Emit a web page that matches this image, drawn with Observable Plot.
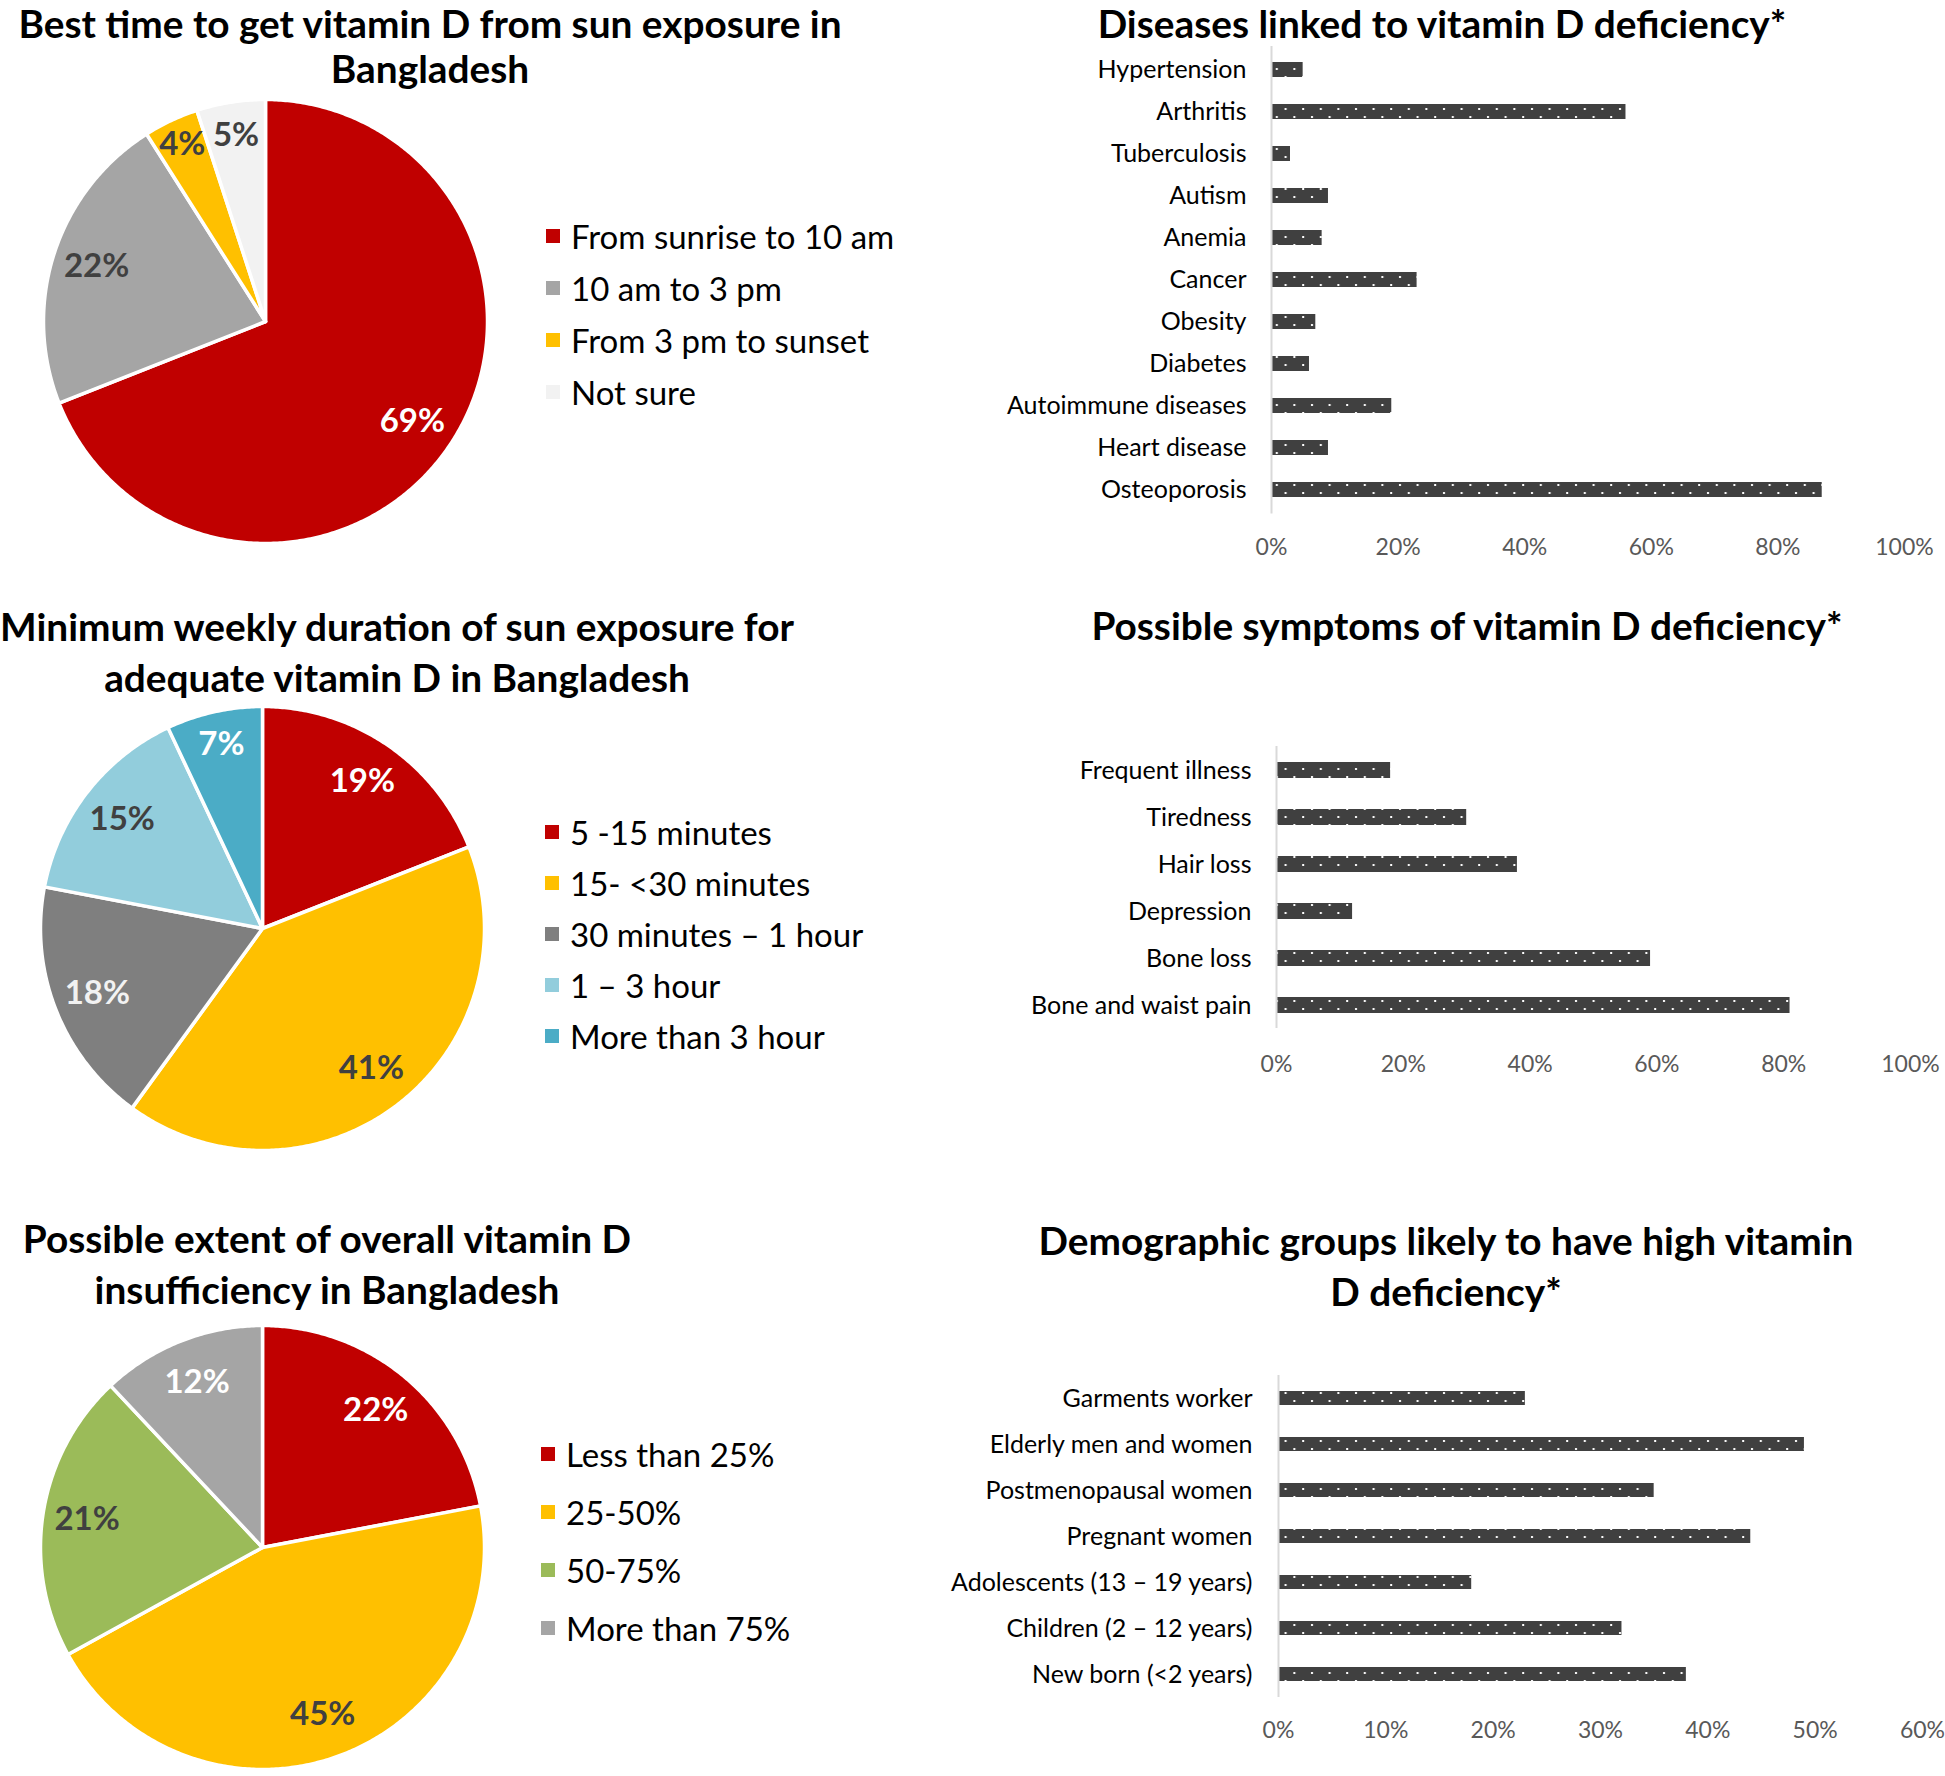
<!DOCTYPE html>
<html><head><meta charset="utf-8">
<script src="https://cdn.jsdelivr.net/npm/d3@7"></script>
<script src="https://cdn.jsdelivr.net/npm/@observablehq/plot@0.6"></script>
<style>
body{margin:0;background:#fff;font-family:Lato,"Open Sans",sans-serif;}
#root{position:relative;width:1945px;height:1776px;overflow:hidden;background:#fff;}
.title{position:absolute;font-weight:700;font-size:38.8px;line-height:51px;height:51px;text-align:center;color:#000;white-space:nowrap;transform:translateX(-50%);}
.legend{position:absolute;font-size:33px;color:#000;}
.legend .item{position:absolute;left:0;display:flex;align-items:center;white-space:nowrap;transform:translateY(-50%);}
.legend .sw{width:14px;height:14px;margin-right:11px;flex:none;}
.panel{position:absolute;}
</style></head><body><div id="root"></div>
<script>
// ---------- data ----------
const timeCategories = ["From sunrise to 10 am", "10 am to 3 pm", "From 3 pm to sunset", "Not sure"];
const timeValues = [69, 22, 4, 5];

const durationCategories = ["5 -15 minutes", "15- <30 minutes", "30 minutes – 1 hour", "1 – 3 hour", "More than 3 hour"];
const durationValues = [19, 41, 18, 15, 7];

const extentCategories = ["Less than 25%", "25-50%", "50-75%", "More than 75%"];
const extentValues = [22, 45, 21, 12];

const diseaseCategories = ["Hypertension", "Arthritis", "Tuberculosis", "Autism", "Anemia", "Cancer", "Obesity", "Diabetes", "Autoimmune diseases", "Heart disease", "Osteoporosis"];
const diseaseValues = [5, 56, 3, 9, 8, 23, 7, 6, 19, 9, 87];

const symptomCategories = ["Frequent illness", "Tiredness", "Hair loss", "Depression", "Bone loss", "Bone and waist pain"];
const symptomValues = [18, 30, 38, 12, 59, 81];

const groupCategories = ["Garments worker", "Elderly men and women", "Postmenopausal women", "Pregnant women", "Adolescents (13 – 19 years)", "Children (2 – 12 years)", "New born (<2 years)"];
const groupValues = [23, 49, 35, 44, 18, 32, 38];

const ticks100 = [0, 20, 40, 60, 80, 100];
const ticks60 = [0, 10, 20, 30, 40, 50, 60];

const titles = {
  time: ["Best time to get vitamin D from sun exposure in", "Bangladesh"],
  duration: ["Minimum weekly duration of sun exposure for", "adequate vitamin D in Bangladesh"],
  extent: ["Possible extent of overall vitamin D", "insufficiency in Bangladesh"],
  disease: ["Diseases linked to vitamin D deficiency*"],
  symptom: ["Possible symptoms of vitamin D deficiency*"],
  group: ["Demographic groups likely to have high vitamin", "D deficiency*"]
};

// ---------- styles ----------
const timeColors = ["#C00000", "#A5A5A5", "#FFC000", "#F2F2F2"];
const timeLabelColors = ["#FFFFFF", "#404040", "#404040", "#404040"];
const durationColors = ["#C00000", "#FFC000", "#7F7F7F", "#92CDDC", "#4BACC6"];
const durationLabelColors = ["#FFFFFF", "#404040", "#F2F2F2", "#404040", "#FFFFFF"];
const extentColors = ["#C00000", "#FFC000", "#9BBB59", "#A5A5A5"];
const extentLabelColors = ["#FFFFFF", "#404040", "#404040", "#FFFFFF"];
const FONT = "Lato, 'Open Sans', sans-serif";

const root = document.getElementById("root");

// each line placed by its own centre y
function addTitle(lines, cx, centers) {
  lines.forEach((l, i) => {
    const d = document.createElement("div");
    d.className = "title";
    d.style.left = cx + "px";
    d.style.top = (centers[i] - 25.5) + "px";
    d.textContent = l;
    root.appendChild(d);
  });
}

function addLegend(cats, colors, x, y0, step) {
  const d = document.createElement("div");
  d.className = "legend";
  d.style.left = x + "px";
  d.style.top = y0 + "px";
  cats.forEach((c, i) => {
    const it = document.createElement("div");
    it.className = "item";
    it.style.top = (i * step) + "px";
    const sw = document.createElement("span");
    sw.className = "sw";
    sw.style.background = colors[i];
    const t = document.createElement("span");
    t.textContent = c;
    it.appendChild(sw); it.appendChild(t);
    d.appendChild(it);
  });
  root.appendChild(d);
}

function place(node, left, top) {
  const w = document.createElement("div");
  w.className = "panel";
  w.style.left = left + "px";
  w.style.top = top + "px";
  w.appendChild(node);
  root.appendChild(w);
}

function pie(values, colors, labelColors, cx, cy) {
  const W = 460, pad = 8;
  const total = d3.sum(values);
  let acc = 0;
  const slices = values.map((v, i) => {
    const a0 = acc / total * 2 * Math.PI; acc += v;
    const a1 = acc / total * 2 * Math.PI;
    return {i, v, a0, a1};
  });
  const marks = [];
  for (const s of slices) {
    const pts = [{x: 0, y: 0}];
    const n = Math.max(2, Math.ceil((s.a1 - s.a0) / 0.01));
    for (let j = 0; j <= n; j++) {
      const a = s.a0 + (s.a1 - s.a0) * j / n;
      pts.push({x: Math.sin(a), y: Math.cos(a)});
    }
    pts.push({x: 0, y: 0});
    marks.push(Plot.line(pts, {x: "x", y: "y", fill: colors[s.i], stroke: "white", strokeWidth: 3.5, strokeLinejoin: "round"}));
  }
  for (const s of slices) {
    const m = (s.a0 + s.a1) / 2;
    const f = s.v < 5 ? 0.88 : s.v < 8 ? 0.85 : 0.8;
    marks.push(Plot.text([{x: f * Math.sin(m), y: f * Math.cos(m), t: s.v + "%"}], {
      x: "x", y: "y", text: "t", fill: labelColors[s.i], fontSize: 33, fontWeight: 700
    }));
  }
  const p = Plot.plot({
    width: W, height: W, margin: 0,
    style: {fontFamily: FONT, background: "transparent"},
    x: {domain: [-1, 1], range: [pad, W - pad], axis: null},
    y: {domain: [-1, 1], range: [W - pad, pad], axis: null},
    marks
  });
  place(p, cx - W / 2, cy - W / 2);
}

let patId = 0;
function bars(cats, vals, o) {
  const data = cats.map((c, i) => ({c, v: vals[i]}));
  const id = "dots" + (patId++);
  const bandH = o.step * cats.length;
  const height = o.mt + bandH + o.mb;
  const p = Plot.plot({
    width: 945, height,
    marginTop: o.mt, marginBottom: o.mb, marginLeft: o.ml, marginRight: o.mr,
    style: {fontFamily: FONT, background: "transparent", overflow: "visible"},
    x: {domain: [0, o.max]},
    y: {domain: cats, paddingInner: o.pi, paddingOuter: o.pi / 2},
    marks: [
      Plot.barX(data, {x: "v", y: "c", fill: `url(#${id})`}),
      Plot.ruleX([0], {stroke: "#D9D9D9", strokeWidth: 2}),
      Plot.axisX({ticks: o.ticks, tickFormat: d => d + "%", tickSize: 0, tickPadding: o.tpx, fontSize: 23, fill: "#595959", label: null}),
      Plot.axisY({tickSize: 0, tickPadding: o.tpy, fontSize: 25, fill: "#000", label: null})
    ]
  });
  const svg = p.tagName.toLowerCase() === "svg" ? p : p.querySelector("svg");
  const ns = "http://www.w3.org/2000/svg";
  const defs = document.createElementNS(ns, "defs");
  const pat = document.createElementNS(ns, "pattern");
  pat.setAttribute("id", id);
  pat.setAttribute("patternUnits", "userSpaceOnUse");
  pat.setAttribute("width", "17.6");
  pat.setAttribute("height", "16");
  const bg = document.createElementNS(ns, "rect");
  bg.setAttribute("width", "17.6"); bg.setAttribute("height", "16"); bg.setAttribute("fill", "#404040");
  pat.appendChild(bg);
  [[3, 4], [11.8, 12]].forEach(([x, y]) => {
    const r = document.createElementNS(ns, "rect");
    r.setAttribute("x", x); r.setAttribute("y", y);
    r.setAttribute("width", "2"); r.setAttribute("height", "2"); r.setAttribute("fill", "#FFFFFF");
    pat.appendChild(r);
  });
  defs.appendChild(pat);
  svg.insertBefore(defs, svg.firstChild);
  place(p, o.left, o.top);
}

// ---------- left column: pies ----------
addTitle(titles.time, 430, [23, 68]);
pie(timeValues, timeColors, timeLabelColors, 265, 321);
addLegend(timeCategories, timeColors, 546, 236, 52);

addTitle(titles.duration, 397, [626, 677]);
pie(durationValues, durationColors, durationLabelColors, 262, 928);
addLegend(durationCategories, durationColors, 545, 832, 51);

addTitle(titles.extent, 327, [1238, 1289]);
pie(extentValues, extentColors, extentLabelColors, 262, 1547);
addLegend(extentCategories, extentColors, 541, 1454, 58);

// ---------- right column: bars ----------
addTitle(titles.disease, 1442, [23]);
bars(diseaseCategories, diseaseValues, {left: 1000, top: 40, mt: 6, mb: 60, ml: 271, mr: 41, step: 42.5, pi: 0.647, max: 100, ticks: ticks100, tpx: 25, tpy: 25});

addTitle(titles.symptom, 1467, [625]);
bars(symptomCategories, symptomValues, {left: 1000, top: 700, mt: 46, mb: 60, ml: 276, mr: 35, step: 47, pi: 0.66, max: 100, ticks: ticks100, tpx: 27, tpy: 25});

addTitle(titles.group, 1446, [1240, 1291]);
bars(groupCategories, groupValues, {left: 1000, top: 1340, mt: 35, mb: 60, ml: 278, mr: 23, step: 46, pi: 0.696, max: 60, ticks: ticks60, tpx: 24, tpy: 26});
</script></body></html>
